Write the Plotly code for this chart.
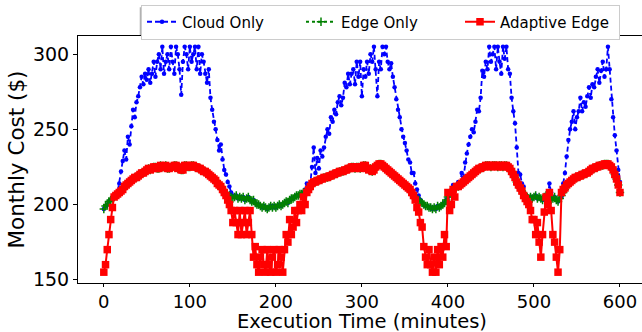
import plotly.graph_objects as go

minutes = list(range(0, 601, 2))

cloud_only = [
    197, 199, 200, 202, 203, 204, 205, 206, 208, 214,   # 0-18
    222, 229, 236, 230, 245, 240, 252, 263, 258, 268,   # 20-38
    272, 278, 285, 280, 287, 283, 290, 281, 287, 295,   # 40-58
    285, 295, 300, 290, 305, 287, 295, 300, 290, 305,   # 60-78
    295, 287, 305, 300, 290, 273, 295, 305, 300, 290,   # 80-98
    305, 295, 300, 305, 290, 305, 287, 300, 295, 287,   # 100-118
    281, 290, 271, 263, 255, 250, 243, 236, 240, 230,   # 120-138
    223, 220, 215, 212, 208, 206, 205, 206, 204, 205,   # 140-158
    204, 205, 203, 204, 205, 203, 202, 203, 201, 200,   # 160-178
    200, 199, 198, 199, 198, 197, 198, 199, 198, 199,   # 180-198
    198, 199, 200, 199, 200, 201, 202, 201, 203, 204,   # 200-218
    204, 205, 206, 206, 207, 207, 208, 210, 214, 212,   # 220-238
    214, 225, 238, 221, 231, 224, 236, 232, 238, 245,   # 240-258
    250, 247, 258, 255, 263, 260, 268, 272, 266, 271,   # 260-278
    281, 278, 287, 280, 287, 290, 280, 295, 285, 295,   # 280-298
    272, 290, 285, 295, 287, 300, 295, 305, 290, 272,   # 300-318
    295, 290, 305, 300, 305, 295, 290, 294, 285, 278,   # 320-338
    270, 263, 258, 250, 245, 241, 236, 230, 228, 221,   # 340-358
    221, 214, 210, 206, 203, 201, 200, 199, 199, 198,   # 360-378
    198, 197, 198, 197, 199, 198, 199, 200, 201, 203,   # 380-398
    205, 207, 208, 213, 211, 213, 215, 213, 221, 218,   # 400-418
    228, 234, 240, 245, 250, 248, 255, 263, 262, 271,   # 420-438
    289, 285, 295, 290, 305, 295, 300, 305, 290, 305,   # 440-458
    295, 287, 305, 297, 305, 290, 287, 271, 262, 254,   # 460-478
    238, 221, 220, 214, 212, 206, 205, 204, 205, 204,   # 480-498
    205, 206, 204, 205, 204, 203, 205, 206, 204, 214,   # 500-518
    208, 204, 205, 203, 202, 204, 205, 214, 221, 232,   # 520-538
    243, 250, 255, 262, 250, 258, 262, 271, 262, 268,   # 540-558
    265, 272, 278, 271, 280, 278, 285, 290, 281, 289,   # 560-578
    295, 285, 290, 305, 290, 270, 258, 246, 236, 223,   # 580-598
    215,                                                # 600
]

edge_only = [
    197, 199, 200, 202, 203, 204, 205, 206, 207, 208,   # 0-18
    209, 210, 212, 213, 214, 215, 216, 217, 218, 218,   # 20-38
    219, 220, 221, 221, 222, 223, 224, 223, 224, 225,   # 40-58
    225, 224, 224, 226, 225, 225, 226, 224, 224, 225,   # 60-78
    225, 226, 226, 224, 225, 223, 223, 226, 226, 225,   # 80-98
    225, 226, 226, 225, 225, 224, 224, 223, 222, 222,   # 100-118
    221, 220, 219, 218, 217, 216, 214, 213, 212, 210,   # 120-138
    208, 206, 205, 206, 205, 204, 205, 206, 204, 205,   # 140-158
    204, 205, 203, 204, 205, 203, 202, 203, 201, 200,   # 160-178
    200, 199, 198, 199, 198, 197, 198, 199, 198, 199,   # 180-198
    198, 199, 200, 199, 200, 201, 202, 201, 203, 204,   # 200-218
    204, 205, 206, 206, 207, 207, 208, 208, 209, 210,   # 220-238
    212, 214, 215, 215, 216, 216, 217, 217, 218, 218,   # 240-258
    218, 219, 219, 220, 220, 221, 221, 222, 222, 222,   # 260-278
    223, 223, 224, 224, 225, 225, 224, 225, 225, 224,   # 280-298
    225, 226, 226, 224, 223, 224, 222, 223, 225, 226,   # 300-318
    227, 227, 226, 225, 224, 223, 222, 221, 220, 219,   # 320-338
    218, 217, 216, 215, 214, 213, 212, 211, 210, 208,   # 340-358
    206, 204, 203, 203, 202, 201, 200, 199, 199, 198,   # 360-378
    198, 197, 198, 197, 199, 198, 199, 200, 201, 203,   # 380-398
    205, 207, 208, 210, 211, 212, 212, 213, 214, 215,   # 400-418
    216, 217, 218, 219, 220, 221, 222, 223, 224, 224,   # 420-438
    225, 225, 226, 226, 226, 225, 226, 226, 226, 225,   # 440-458
    226, 226, 225, 226, 226, 225, 224, 222, 220, 218,   # 460-478
    215, 213, 211, 209, 207, 206, 205, 204, 205, 204,   # 480-498
    205, 206, 204, 205, 204, 203, 205, 206, 204, 205,   # 500-518
    203, 204, 205, 203, 202, 204, 206, 208, 210, 213,   # 520-538
    214, 215, 216, 217, 218, 218, 219, 219, 220, 220,   # 540-558
    221, 221, 222, 223, 224, 224, 225, 225, 226, 226,   # 560-578
    226, 227, 227, 227, 226, 225, 223, 220, 217, 213,   # 580-598
    208,                                                # 600
]

adaptive_edge = [
    155, 160, 170, 180, 190, 198, 205, 206, 207, 208,   # 0-18
    209, 210, 212, 213, 214, 215, 216, 217, 218, 218,   # 20-38
    219, 220, 221, 221, 222, 223, 224, 223, 224, 225,   # 40-58
    225, 224, 224, 226, 225, 225, 226, 224, 224, 225,   # 60-78
    225, 226, 226, 224, 225, 223, 223, 226, 226, 225,   # 80-98
    225, 226, 226, 225, 225, 224, 224, 223, 222, 222,   # 100-118
    221, 220, 219, 218, 217, 216, 214, 213, 212, 210,   # 120-138
    208, 206, 203, 200, 196, 188, 196, 188, 180, 196,   # 140-158
    180, 188, 196, 180, 188, 196, 180, 165, 172, 160,   # 160-178
    155, 165, 170, 160, 155, 170, 160, 155, 165, 170,   # 180-198
    155, 160, 170, 165, 155, 170, 180, 175, 190, 180,   # 200-218
    185, 196, 188, 196, 200, 196, 205, 200, 208, 210,   # 220-238
    212, 214, 215, 215, 216, 216, 217, 217, 218, 218,   # 240-258
    218, 219, 219, 220, 220, 221, 221, 222, 222, 222,   # 260-278
    223, 223, 224, 224, 225, 225, 224, 225, 225, 224,   # 280-298
    225, 226, 226, 224, 223, 224, 222, 223, 225, 226,   # 300-318
    227, 227, 226, 225, 224, 223, 222, 221, 220, 219,   # 320-338
    218, 217, 216, 215, 214, 213, 212, 211, 210, 208,   # 340-358
    206, 203, 198, 195, 188, 185, 172, 165, 160, 170,   # 360-378
    160, 155, 165, 155, 170, 160, 172, 165, 180, 172,   # 380-398
    208, 196, 200, 210, 205, 212, 212, 213, 214, 215,   # 400-418
    216, 217, 218, 219, 220, 221, 222, 223, 224, 224,   # 420-438
    225, 225, 226, 226, 226, 225, 226, 226, 226, 225,   # 440-458
    226, 226, 225, 226, 226, 225, 224, 222, 220, 218,   # 460-478
    215, 213, 211, 209, 206, 204, 202, 200, 196, 190,   # 480-498
    190, 180, 188, 175, 165, 180, 195, 205, 200, 208,   # 500-518
    196, 180, 175, 165, 155, 170, 208, 210, 211, 213,   # 520-538
    214, 215, 216, 217, 218, 218, 219, 219, 220, 220,   # 540-558
    221, 221, 222, 223, 224, 224, 225, 225, 226, 226,   # 560-578
    226, 227, 227, 227, 226, 225, 223, 220, 217, 213,   # 580-598
    208,                                                # 600
]

assert len(cloud_only) == len(minutes) == len(edge_only) == len(adaptive_edge)

x_ticks = [0, 100, 200, 300, 400, 500, 600]
y_ticks = [150, 200, 250, 300]

FONT = "DejaVu Sans"
W, H = 642, 332
L, R, T, B = 78.3, 642, 35.7, 283.3

fig = go.Figure()
fig.add_trace(go.Scatter(
    x=minutes, y=cloud_only, name="Cloud Only", mode="lines+markers",
    line=dict(color="#0000ff", width=1.8, dash="5px,3px"),
    marker=dict(symbol="circle", size=4.5, color="#0000ff"),
))
fig.add_trace(go.Scatter(
    x=minutes, y=edge_only, name="Edge Only", mode="lines+markers",
    line=dict(color="#008000", width=1.8, dash="dot"),
    marker=dict(symbol="cross-thin", size=6, line=dict(color="#008000", width=1.5)),
))
fig.add_trace(go.Scatter(
    x=minutes, y=adaptive_edge, name="Adaptive Edge", mode="lines+markers",
    line=dict(color="#ff0000", width=2),
    marker=dict(symbol="square", size=7.5, color="#ff0000"),
))

def px_x(p):
    return (p - L) / (R - L)

def px_y(p):
    return (B - p) / (B - T)

# legend shadow
fig.add_shape(type="rect", xref="paper", yref="paper",
              x0=px_x(140), x1=px_x(612), y0=px_y(35.5), y1=px_y(7),
              fillcolor="rgba(0,0,0,0.3)", line=dict(width=0), layer="above")

# x-axis title placed as annotation for precise position
fig.add_annotation(
    text="Execution Time (minutes)", xref="paper", yref="paper",
    x=px_x(362), y=px_y(322), xanchor="center", yanchor="middle",
    showarrow=False, borderpad=0, font=dict(family=FONT, size=19.5, color="black"),
)

fig.update_layout(
    width=W, height=H,
    margin=dict(l=L, r=0, t=T, b=H - B, autoexpand=False),
    paper_bgcolor="white", plot_bgcolor="white",
    font=dict(family=FONT, color="black", size=18),
    showlegend=True,
    legend=dict(
        orientation="h", xref="container", yref="container",
        x=141 / W, xanchor="left", y=1 - 4.5 / H, yanchor="top",
        bgcolor="white", bordercolor="#cccccc", borderwidth=1,
        font=dict(family=FONT, size=15, color="black"),
        entrywidth=114, entrywidthmode="pixels",
        tracegroupgap=0, itemwidth=30,
    ),
    xaxis=dict(
        range=[-30, 625.6], tickvals=x_ticks, ticktext=[str(v) for v in x_ticks],
        showgrid=False, zeroline=False, showline=True, linecolor="black", linewidth=1.1,
        mirror=True, ticks="outside", ticklen=2.5, tickwidth=1.1, tickcolor="black",
        tickfont=dict(family=FONT, size=18, color="black"),
    ),
    yaxis=dict(
        range=[147.8, 312.1], tickvals=y_ticks, ticktext=[str(v) for v in y_ticks],
        showgrid=False, zeroline=False, showline=True, linecolor="black", linewidth=1.1,
        ticks="outside", ticklen=4, tickwidth=1.1, tickcolor="black",
        tickfont=dict(family=FONT, size=19, color="black"),
        title=dict(text="Monthly Cost ($)", font=dict(family=FONT, size=21.5, color="black"), standoff=2),
    ),
)

fig.write_html("out.html")
